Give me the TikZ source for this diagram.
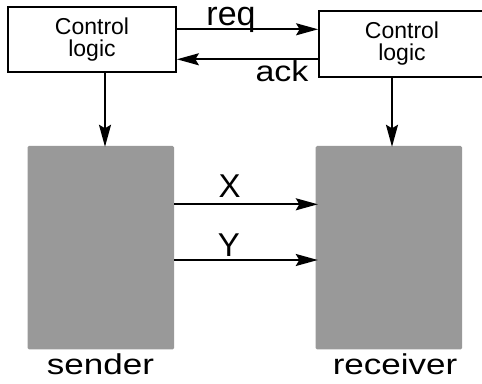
\documentclass[tikz,border=0pt]{standalone}
\usepackage{fontspec}
\setmainfont{Liberation Sans}
\usetikzlibrary{arrows.meta}
\definecolor{blockgray}{HTML}{999999}
\begin{document}
\begin{tikzpicture}[x=1pt,y=1pt,
  ctrl/.style={draw, line width=1.8pt, minimum width=#1, minimum height=65pt,
    align=center, inner sep=0pt, font=\fontsize{23}{22}\selectfont},
  block/.style={fill=blockgray, rounded corners=1.5pt, minimum width=146.5pt,
    minimum height=203.5pt, inner sep=0pt},
  arr/.style={line width=1.8pt, -{Stealth[length=22pt,width=12pt,inset=3.5pt]}},
  big/.style={inner sep=0pt, anchor=base, font=\fontsize{34}{34}\selectfont},
]
\useasboundingbox (0,0) rectangle (482,383);
\clip (0,0) rectangle (482,383);

% handshake controllers
\node[ctrl=168pt] (lctl) at (92,343.5) {Control\\logic};
\node[ctrl=166pt, minimum height=66pt] (rctl) at (402,339) {Control\\logic};

% data path blocks
\node[block] (send) at (100.75,135.25) {};
\node[block] (recv) at (388.75,135.25) {};

% control to block
\coordinate (ld) at (105,0);
\coordinate (rd) at (392,0);
\draw[arr] (lctl.south -| ld) -- ([yshift=-1pt]send.north -| ld);
\draw[arr] (rctl.south -| rd) -- ([yshift=-1pt]recv.north -| rd);

% request / acknowledge
\coordinate (rq) at (0,353.7);
\coordinate (ak) at (0,323.7);
\draw[arr] (lctl.east |- rq) -- (rctl.west |- rq);
\draw[arr] (rctl.west |- ak) -- (lctl.east |- ak);

% data wires
\coordinate (xw) at (0,178.7);
\coordinate (yw) at (0,123);
\draw[arr] (send.east |- xw) -- ([xshift=2.5pt]recv.west |- xw);
\draw[arr] (send.east |- yw) -- ([xshift=2.5pt]recv.west |- yw);

% labels
\node[big] (lreq) at (231,357) {req};
\node[big] (lack) at (282,301) {\scalebox{1}[0.85]{ack}};
\node[big, font=\fontsize{33}{33}\selectfont] (lx) at (229.7,185) {X};
\node[big, font=\fontsize{33}{33}\selectfont] (ly) at (229,126) {Y};
\node[big, font=\fontsize{35}{35}\selectfont] (lsend) at (100.5,9) {\scalebox{1}[0.82]{sender}};
\node[big, font=\fontsize{35}{35}\selectfont] (lrecv) at (395,8) {\scalebox{1}[0.82]{receiver}};
\end{tikzpicture}
\end{document}
